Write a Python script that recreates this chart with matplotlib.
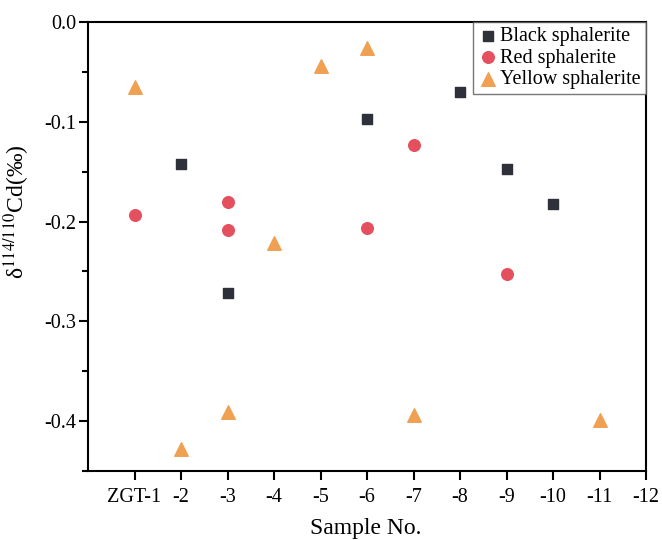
import matplotlib.pyplot as plt
from matplotlib.ticker import MultipleLocator

plt.rcParams['font.family'] = ['Liberation Serif', 'DejaVu Serif']
plt.rcParams['mathtext.fontset'] = 'stix'

# sample positions and tick labels
tick_pos = list(range(1, 13))
tick_labels = ['ZGT-1', '-2', '-3', '-4', '-5', '-6', '-7', '-8', '-9', '-10', '-11', '-12']

# black sphalerite
black_x = [2, 3, 6, 8, 9, 10]
black_y = [-0.142, -0.272, -0.097, -0.070, -0.147, -0.182]

# red sphalerite
red_x = [1, 3, 3, 6, 7, 9]
red_y = [-0.193, -0.180, -0.208, -0.206, -0.123, -0.253]

# yellow sphalerite
yellow_x = [1, 2, 3, 4, 5, 6, 7, 11]
yellow_y = [-0.065, -0.428, -0.391, -0.221, -0.044, -0.026, -0.394, -0.399]

fig = plt.figure(figsize=(6.62, 5.4), dpi=100)
ax = fig.add_axes([0.133, 0.128, 0.843, 0.831])

ax.scatter(black_x, black_y, marker='s', s=55, color='#2e3139', label='Black sphalerite', zorder=3)
ax.scatter(red_x, red_y, marker='o', s=70, color='#e5505f', label='Red sphalerite', zorder=3)
ax.scatter(yellow_x, yellow_y, marker='^', s=95, color='#f0a052', label='Yellow sphalerite', zorder=3)

ax.set_xlim(0, 12)
ax.set_ylim(-0.45, 0)
ax.set_xticks(tick_pos)
ax.set_xticklabels(tick_labels)
ax.yaxis.set_major_locator(MultipleLocator(0.1))
ax.yaxis.set_minor_locator(MultipleLocator(0.05))
ax.yaxis.set_major_formatter(plt.FuncFormatter(lambda v, p: '%.1f' % v))

ax.tick_params(which='both', direction='out', top=False, right=False, labelsize=14.5, width=1.5)
ax.tick_params(which='major', length=6.5)
ax.tick_params(which='minor', length=4)
ax.tick_params(axis='x', pad=6)
ax.tick_params(axis='y', pad=2)
for sp in ax.spines.values():
    sp.set_linewidth(1.5)

ax.set_xlabel('Sample No.', fontsize=17)
ax.set_ylabel('δ$^{114/110}$Cd(‰)', fontsize=17)
ax.xaxis.set_label_coords(0.498, -0.105)
ax.yaxis.set_label_coords(-0.10, 0.577)

leg = ax.legend(loc='upper right', fontsize=14.5, frameon=True, fancybox=False,
                edgecolor='#555555', borderaxespad=0, handletextpad=0.1,
                handlelength=1.0, borderpad=0.25, labelspacing=0.12)
leg.get_frame().set_linewidth(1.0)

fig.savefig('out.png', dpi=100)
